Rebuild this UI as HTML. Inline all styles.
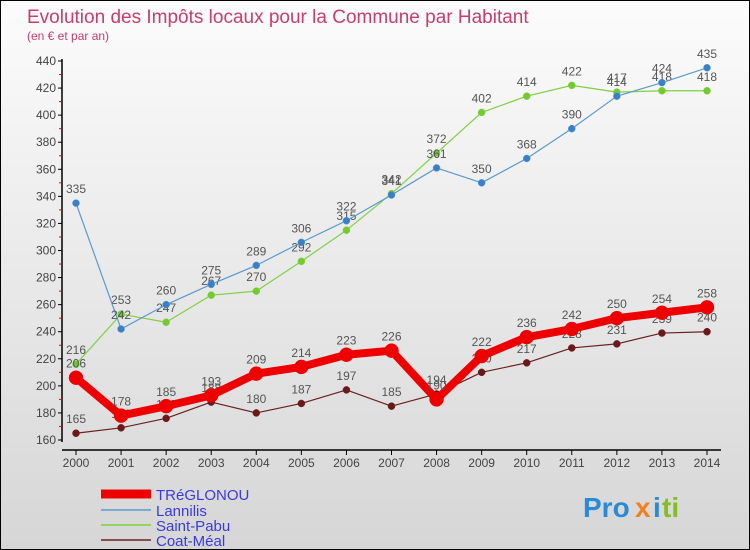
<!DOCTYPE html>
<html><head><meta charset="utf-8"><style>
body{margin:0}
#c{width:750px;height:550px;position:relative;overflow:hidden;border:1px solid #000;box-sizing:border-box;background:linear-gradient(#fcfcfc,#d6d6d6);font-family:"Liberation Sans",sans-serif}
</style></head><body>
<div id="c">
<svg id="s" width="750" height="550" style="position:absolute;left:0;top:0" font-family="Liberation Sans, sans-serif">
<text x="26" y="22" font-size="19" fill="#c83c6e">Evolution des Impôts locaux pour la Commune par Habitant</text>
<text x="26" y="39" font-size="12" fill="#c83c6e">(en € et par an)</text>
<g id="axes"></g><g id="series"></g>
<g>
<line x1="100" y1="493" x2="150" y2="493" stroke="#e00" stroke-width="9"/>
<text x="155" y="499" font-size="15" fill="#3a3ae0">TRéGLONOU</text>
<line x1="100" y1="509" x2="150" y2="509" stroke="#5a9ad0" stroke-width="1.5"/>
<text x="155" y="515" font-size="15" fill="#3a3ae0">Lannilis</text>
<line x1="100" y1="524" x2="150" y2="524" stroke="#80d040" stroke-width="1.5"/>
<text x="155" y="530" font-size="15" fill="#3a3ae0">Saint-Pabu</text>
<line x1="100" y1="539" x2="150" y2="539" stroke="#6a2020" stroke-width="1.5"/>
<text x="155" y="545" font-size="15" fill="#3a3ae0">Coat-Méal</text>
</g>
<g font-size="28" font-weight="bold">
<text x="582" y="516" fill="#2a8ad8">Pro</text><text x="634" y="516" fill="#f08020">x</text><text x="652" y="516" fill="#2a8ad8">i</text><text x="661" y="516" fill="#80c020">ti</text>
</g>
</svg>
</div>
<script>
const years=[2000,2001,2002,2003,2004,2005,2006,2007,2008,2009,2010,2011,2012,2013,2014];
const yTicks=[160,180,200,220,240,260,280,300,320,340,360,380,400,420,440];
const treglonou=[206,178,185,193,209,214,223,226,190,222,236,242,250,254,258];
const lannilis=[335,242,260,275,289,306,322,341,361,350,368,390,414,424,435];
const saintPabu=[216,253,247,267,270,292,315,342,372,402,414,422,417,418,418];
const coatMeal=[165,169,176,188,180,187,197,185,194,210,217,228,231,239,240];
const NS="http://www.w3.org/2000/svg";
function X(i){return 75+i*(706-75)/(years.length-1);}
function Y(v){return 439-(v-160)*(439-60)/280;}
function mk(tag,attrs,parent){const e=document.createElementNS(NS,tag);for(const k in attrs)e.setAttribute(k,attrs[k]);parent.appendChild(e);return e;}
const ax=document.getElementById('axes');
let a=mk('line',{x1:61,y1:58,x2:61,y2:441,stroke:'#000','stroke-width':1.5},ax);


a=mk('line',{x1:61,y1:449,x2:720,y2:449,stroke:'#000','stroke-width':1.5},ax);


yTicks.forEach(v=>{
  mk('line',{x1:57,y1:Y(v),x2:61,y2:Y(v),stroke:'#000'},ax);
  if(v<440)mk('line',{x1:58,y1:Y(v+10),x2:61,y2:Y(v+10),stroke:'#e00'},ax);
  const t=mk('text',{x:55,y:Y(v)+4,'font-size':12,fill:'#444','text-anchor':'end'},ax);t.textContent=v;
  
  
});
years.forEach((y,i)=>{
  mk('line',{x1:X(i),y1:449,x2:X(i),y2:454,stroke:'#000'},ax);
  const t=mk('text',{x:X(i),y:466,'font-size':12,fill:'#444','text-anchor':'middle'},ax);t.textContent=y;
  
  
});
const sg=document.getElementById('series');
function series(data,name,color,w,r,fill){
  const g=mk('g',{},sg);
  
  
  mk('polyline',{points:data.map((v,i)=>X(i)+','+Y(v)).join(' '),fill:'none',stroke:color,'stroke-width':w,'stroke-linejoin':'round'},g);
  data.forEach((v,i)=>{
    const c=mk('circle',{cx:X(i),cy:Y(v),r:r,fill:fill,stroke:color,'stroke-width':0.5},g);
    
    
    const t=mk('text',{x:X(i),y:Y(v)-10,'font-size':12,fill:'#555','text-anchor':'middle'},g);t.textContent=v;
    
    
  });
}
series(coatMeal,'coat-meal','#6a2020',1.2,3.5,'#6a1818');
series(saintPabu,'saint-pabu','#80d040',1.2,3.5,'#70cc30');
series(lannilis,'lannilis','#5a9ad0',1.2,3.5,'#3a80c8');
series(treglonou,'treglonou','#e00',8,7,'#e00');
</script>
</body></html>
